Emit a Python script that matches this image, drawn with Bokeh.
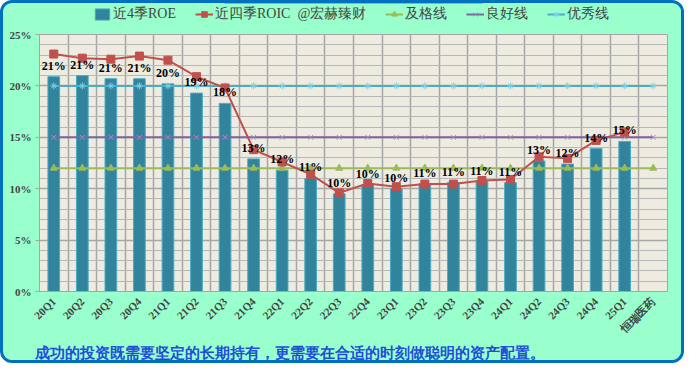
import math
from bokeh.plotting import figure
from bokeh.layouts import column
from bokeh.models import (ColumnDataSource, FixedTicker, PrintfTickFormatter, Legend, LegendItem, Title)
from bokeh.core.properties import value
from bokeh.embed import file_html
from bokeh.resources import INLINE

categories = ["20Q1", "20Q2", "20Q3", "20Q4", "21Q1", "21Q2", "21Q3", "21Q4",
              "22Q1", "22Q2", "22Q3", "22Q4", "23Q1", "23Q2", "23Q3", "23Q4",
              "24Q1", "24Q2", "24Q3", "24Q4", "25Q1", "恒瑞医药"]
roe = [20.9, 21.0, 20.7, 20.7, 20.2, 19.3, 18.3, 12.9, 11.8, 11.0, 9.5,
       10.4, 10.0, 10.5, 10.6, 10.7, 10.6, 12.7, 12.4, 13.9, 14.6]
roe_labels = ["21%", "21%", "21%", "21%", "20%", "19%", "18%", "13%", "12%", "11%", "10%",
              "10%", "10%", "11%", "11%", "11%", "11%", "13%", "12%", "14%", "15%"]
roic = [23.1, 22.7, 22.6, 22.9, 22.5, 20.9, 19.8, 13.8, 12.6, 11.4, 9.6,
        10.5, 10.2, 10.45, 10.45, 10.8, 10.9, 13.1, 12.95, 14.7, 15.5]
pass_line = [12] * 22
good_line = [15] * 22
excellent_line = [20] * 22
y_ticks = [0, 5, 10, 15, 20, 25]
series_names = ["近4季ROE", "近四季ROIC  @宏赫臻财", "及格线", "良好线", "优秀线"]
note_text = "成功的投资既需要坚定的长期持有，更需要在合适的时刻做聪明的资产配置。"

n_all = len(categories)
n = len(roe)
xc_all = [i + 0.5 for i in range(n_all)]
xc = xc_all[:n]

serif = "Liberation Serif"
W, H = 678, 357
HEAD = 24
MINT = "#99FFCC"

bar_style = dict(fill_color="#31849B", line_color="#4BACC6", line_width=1)
pass_l = dict(line_color="#9BBB59", line_width=2)
pass_m = dict(marker="triangle", size=7, fill_color="#9BBB59", line_color="#9BBB59")
good_l = dict(line_color="#8064A2", line_width=2)
good_m = dict(marker="x", size=7, line_color="#A48FC0", line_width=1)
exc_l = dict(line_color="#4BACC6", line_width=2)
exc_m = dict(marker="asterisk", size=7, line_color="#7FD0E6", line_width=1)
roic_l = dict(line_color="#C0504D", line_width=2)
roic_m = dict(marker="square", size=8, fill_color="#C0504D", line_color="#C0504D")

# ---------------- main chart ----------------
p = figure(width=W, height=H - HEAD, x_range=(0, n_all), y_range=(0, 25),
           output_backend="svg", toolbar_location=None,
           min_border_left=36, min_border_right=14, min_border_top=7, min_border_bottom=60)
p.border_fill_color = MINT
p.background_fill_color = "#EEECE1"
p.outline_line_color = "#A6A6A6"

src = ColumnDataSource(dict(x=xc, roe=roe, roic=roic, lab=roe_labels))
src_all = ColumnDataSource(dict(x=xc_all, p12=pass_line, g15=good_line, e20=excellent_line))

p.vbar(x="x", top="roe", width=0.41, source=src, **bar_style)
p.line("x", "p12", source=src_all, **pass_l)
p.scatter("x", "p12", source=src_all, **pass_m)
p.line("x", "g15", source=src_all, **good_l)
p.scatter("x", "g15", source=src_all, **good_m)
p.line("x", "e20", source=src_all, **exc_l)
p.scatter("x", "e20", source=src_all, **exc_m)
p.line("x", "roic", source=src, **roic_l)
p.scatter("x", "roic", source=src, **roic_m)

p.text("x", "roe", text="lab", source=src, text_align="center", text_baseline="bottom",
       y_offset=-4, text_font=value(serif), text_font_style="bold",
       text_font_size="12px", text_color="#000000")

p.xgrid.ticker = FixedTicker(ticks=list(range(0, n_all + 1)))
p.xgrid.grid_line_color = "#A6A6A6"
p.xgrid.grid_line_width = 1.5
p.ygrid.ticker = FixedTicker(ticks=y_ticks, minor_ticks=list(range(0, 26)))
p.ygrid.grid_line_color = "#A6A6A6"
p.ygrid.grid_line_width = 1.5
p.ygrid.minor_grid_line_color = "#B8B8B8"
p.ygrid.minor_grid_line_width = 1.2

p.yaxis.ticker = FixedTicker(ticks=y_ticks)
p.yaxis.formatter = PrintfTickFormatter(format="%d%%")
p.yaxis.axis_line_color = None
p.yaxis.major_tick_out = 4
p.yaxis.major_tick_in = 0
p.yaxis.major_tick_line_color = "#A6A6A6"
p.yaxis.minor_tick_line_color = None
p.yaxis.major_label_text_font = serif
p.yaxis.major_label_text_font_style = "bold"
p.yaxis.major_label_text_font_size = "11px"
p.yaxis.major_label_standoff = 4

p.xaxis.ticker = FixedTicker(ticks=xc_all)
p.xaxis.major_label_overrides = {x: c for x, c in zip(xc_all, categories)}
p.xaxis.major_label_orientation = math.pi / 4
p.xaxis.axis_line_color = "#A6A6A6"
p.xaxis.major_tick_line_color = None
p.xaxis.minor_tick_line_color = None
p.xaxis.major_label_text_font = serif
p.xaxis.major_label_text_font_style = "bold"
p.xaxis.major_label_text_font_size = "11px"
p.xaxis.major_label_standoff = 2

note = Title(text=note_text, align="left", offset=-5, standoff=0,
             text_color="#1F4FD8", text_font=serif, text_font_style="bold",
             text_font_size="15px")
p.add_layout(note, "below")

# ---------------- legend header ----------------
h = figure(width=W, height=HEAD, x_range=(0, 1), y_range=(-2, -1),
           output_backend="svg", toolbar_location=None,
           x_axis_location=None, y_axis_location=None,
           min_border_left=0, min_border_right=0, min_border_top=0, min_border_bottom=0)
h.border_fill_color = MINT
h.background_fill_color = MINT
h.outline_line_color = None
h.grid.visible = False

# legend swatches: renderers whose single point lies outside the header's visible range
swatch = ColumnDataSource(dict(x=xc[:1], y=roe[:1]))
r_bar = h.vbar(x="x", top="y", width=0.41, source=swatch, **bar_style)
r_roic = [h.line("x", "y", source=swatch, **roic_l), h.scatter("x", "y", source=swatch, **roic_m)]
r_pass = [h.line("x", "y", source=swatch, **pass_l), h.scatter("x", "y", source=swatch, **pass_m)]
r_good = [h.line("x", "y", source=swatch, **good_l), h.scatter("x", "y", source=swatch, **good_m)]
r_exc = [h.line("x", "y", source=swatch, **exc_l), h.scatter("x", "y", source=swatch, **exc_m)]

legend = Legend(items=[
    LegendItem(label=series_names[0], renderers=[r_bar]),
    LegendItem(label=series_names[1], renderers=r_roic),
    LegendItem(label=series_names[2], renderers=r_pass),
    LegendItem(label=series_names[3], renderers=r_good),
    LegendItem(label=series_names[4], renderers=r_exc),
], orientation="horizontal", location=(52, 2))
legend.background_fill_alpha = 0
legend.border_line_alpha = 0
legend.label_text_font = serif
legend.label_text_font_size = "14px"
legend.glyph_width = 18
legend.glyph_height = 14
legend.spacing = 19
legend.padding = 2
legend.margin = 0
legend.label_standoff = 2
h.add_layout(legend)

layout = column(h, p, spacing=0)
layout.styles = {"border": "3px solid #0070C0", "border-radius": "12px",
                 "overflow": "hidden", "background-color": MINT}

open("out.html", "w").write(file_html(layout, INLINE))
